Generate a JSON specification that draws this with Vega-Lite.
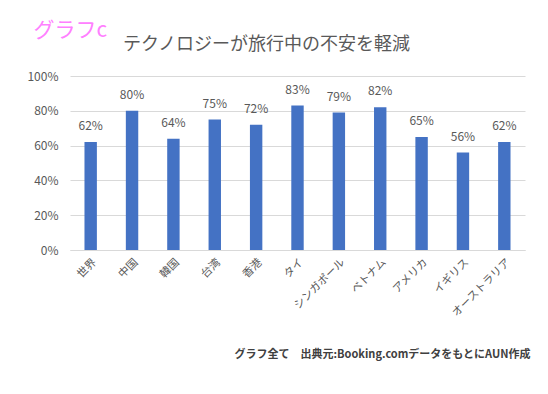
{
  "$schema": "https://vega.github.io/schema/vega-lite/v6.json",
  "autosize": "none",
  "width": 455,
  "height": 174,
  "padding": {"left": 70, "top": 76, "right": 23, "bottom": 144},
  "background": "white",
  "config": {
    "font": "Noto Sans CJK JP",
    "view": {"stroke": null}
  },
  "title": {
    "text": "テクノロジーが旅行中の不安を軽減",
    "anchor": "start",
    "dx": 96,
    "offset": -35,
    "fontSize": 18,
    "fontWeight": "normal",
    "color": "#595959",
    "font": "Noto Sans CJK JP"
  },
  "data": {
    "values": [
      {"country": "世界", "value": 0.62},
      {"country": "中国", "value": 0.80},
      {"country": "韓国", "value": 0.64},
      {"country": "台湾", "value": 0.75},
      {"country": "香港", "value": 0.72},
      {"country": "タイ", "value": 0.83},
      {"country": "シンガポール", "value": 0.79},
      {"country": "ベトナム", "value": 0.82},
      {"country": "アメリカ", "value": 0.65},
      {"country": "イギリス", "value": 0.56},
      {"country": "オーストラリア", "value": 0.62}
    ]
  },
  "encoding": {
    "x": {
      "field": "country",
      "type": "nominal",
      "sort": null,
      "scale": {"paddingInner": 0.7, "paddingOuter": 0.35},
      "axis": {
        "title": "グラフ全て　出典元:Booking.comデータをもとにAUN作成",
        "titleAnchor": "end",
        "titleFontSize": 11,
        "titleFontWeight": "bold",
        "titleColor": "#404040",
        "titleX": 460,
        "titleY": 104,
        "titleBaseline": "middle",
        "labelAngle": -45,
        "labelAlign": "right",
        "labelBaseline": "top",
        "labelFontSize": 11,
        "labelColor": "#595959",
        "labelPadding": 6,
        "ticks": false,
        "domain": true,
        "domainColor": "#d9d9d9"
      }
    },
    "y": {
      "field": "value",
      "type": "quantitative",
      "scale": {"domain": [0, 1]},
      "axis": {
        "format": ".0%",
        "values": [0, 0.2, 0.4, 0.6, 0.8, 1],
        "labelOverlap": false,
        "title": "グラフc",
        "titleAngle": 0,
        "titleColor": "#FF80FF",
        "titleFontSize": 21,
        "titleFontWeight": "normal",
        "titleX": -37,
        "titleY": -46,
        "titleAlign": "left",
        "titleBaseline": "middle",
        "labelFontSize": 12,
        "labelColor": "#595959",
        "labelPadding": 12,
        "ticks": false,
        "domain": false,
        "gridColor": "#d9d9d9"
      }
    }
  },
  "layer": [
    {
      "mark": {"type": "bar", "color": "#4472C4"}
    },
    {
      "mark": {"type": "text", "dy": -9, "fontSize": 12, "color": "#595959", "baseline": "bottom"},
      "encoding": {
        "text": {"field": "value", "type": "quantitative", "format": ".0%"}
      }
    }
  ]
}
